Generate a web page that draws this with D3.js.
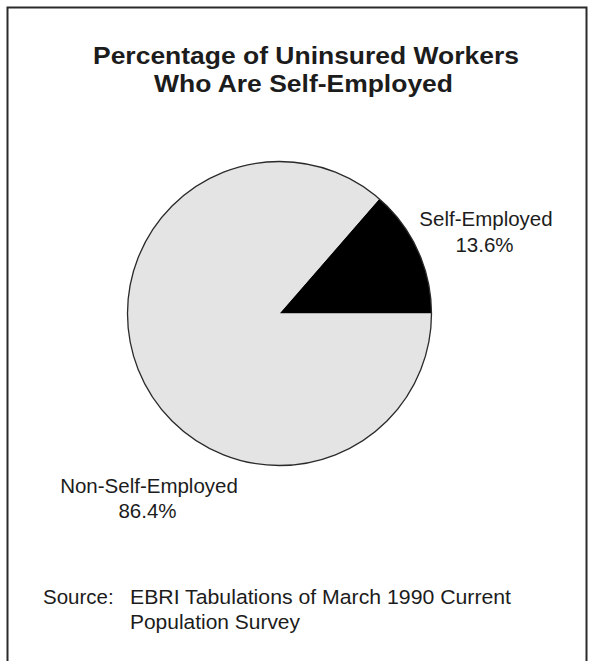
<!DOCTYPE html>
<html>
<head>
<meta charset="utf-8">
<script src="https://cdn.jsdelivr.net/npm/d3@7"></script>
<style>
  html, body { margin: 0; padding: 0; background: #ffffff; }
  svg { display: block; }
  text { font-family: "Liberation Sans", Arial, Helvetica, sans-serif; fill: #1c1c1c; }
</style>
</head>
<body>
<svg id="chart" width="593" height="661"></svg>
<script>
// Share of uninsured workers by employment type
const categories = ["Self-Employed", "Non-Self-Employed"];
const values = [13.6, 86.4];
const valueLabels = ["13.6%", "86.4%"];
const titleLines = ["Percentage of Uninsured Workers", "Who Are Self-Employed"];
const sourceLines = ["EBRI Tabulations of March 1990 Current", "Population Survey"];

const svg = d3.select("#chart");

// outer frame (runs off the bottom edge)
svg.append("rect")
  .attr("x", 7.5).attr("y", 7.5)
  .attr("width", 579).attr("height", 700)
  .attr("fill", "none").attr("stroke", "#2a2a2a").attr("stroke-width", 2);

// title, set in a wide bold face
const titleLayout = [{ x: 306, y: 63.5, w: 426 }, { x: 303.5, y: 91.5, w: 299 }];
svg.append("g").selectAll("text")
  .data(titleLines).join("text")
  .attr("x", (d, i) => titleLayout[i].x)
  .attr("y", (d, i) => titleLayout[i].y)
  .attr("text-anchor", "middle")
  .attr("font-size", 23).attr("font-weight", "bold")
  .attr("textLength", (d, i) => titleLayout[i].w)
  .attr("lengthAdjust", "spacingAndGlyphs")
  .text(d => d);

// pie: first slice starts at 3 o'clock and sweeps counter-clockwise
const cx = 279.5, cy = 313.5, r = 152;
const colors = d3.scaleOrdinal().domain(categories).range(["#000000", "#e5e4e5"]);

const pie = d3.pie().value(d => d.v).sort(null)
  .startAngle(Math.PI / 2).endAngle(Math.PI / 2 - 2 * Math.PI);
const arcs = pie(categories.map((c, i) => ({ c, v: values[i] })));
const arc = d3.arc().innerRadius(0).outerRadius(r);

const g = svg.append("g").attr("transform", `translate(${cx},${cy})`);
g.selectAll("path").data(arcs).join("path")
  .attr("d", arc)
  .attr("fill", d => colors(d.data.c))
  .attr("stroke", "none");
g.append("circle").attr("r", r)
  .attr("fill", "none").attr("stroke", "#2a2a2a").attr("stroke-width", 1.3);

// slice labels
const labelPos = [[486, 226], [149, 492.5]];
const labels = svg.append("g");
categories.forEach((c, i) => {
  const [x, y] = labelPos[i];
  labels.append("text").attr("x", x).attr("y", y)
    .attr("text-anchor", "middle").attr("font-size", 20.5).text(c);
  labels.append("text").attr("x", x - 1.5).attr("y", y + 25.5)
    .attr("text-anchor", "middle").attr("font-size", 20.5).text(valueLabels[i]);
});

// source note
svg.append("text").attr("x", 43).attr("y", 604)
  .attr("font-size", 20.5).text("Source:");
const sourceWidths = [381, 170];
svg.append("g").selectAll("text")
  .data(sourceLines).join("text")
  .attr("x", 130).attr("y", (d, i) => 604 + i * 24.5)
  .attr("font-size", 20.5)
  .attr("textLength", (d, i) => sourceWidths[i])
  .attr("lengthAdjust", "spacingAndGlyphs")
  .text(d => d);
</script>
</body>
</html>
